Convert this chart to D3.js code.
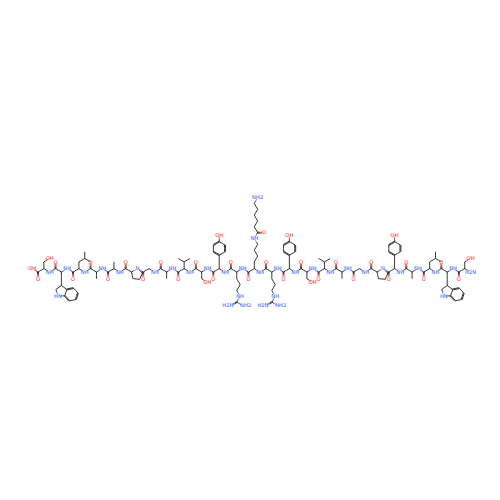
<!DOCTYPE html>
<html><head><meta charset="utf-8">
<script src="https://cdn.jsdelivr.net/npm/d3@7"></script>
<style>body{margin:0;background:#fff}</style></head>
<body><svg id="c" width="500" height="500"></svg>
<script>
// Peptide sequence, drawn left (C-terminus) to right (N-terminus)
const residues = ["Ser","Trp","Leu","Ala","Ala","Pro","Gly","Ala","Val","Ser","Tyr","Arg","LysX","Arg","Tyr","Ser","Val","Ala","Gly","Pro","Tyr","Ala","Leu","Trp","Ser"];
const elementColors = {C:"#000", N:"#3050F8", O:"#FF0D0D"};

const atoms=[], bonds=[];
function add(x,y,label,el,anchor){atoms.push({x,y,label,el:el||"C",anchor:anchor||"middle"});return atoms.length-1;}
function bond(a,b,o){bonds.push([a,b,o||1]);}
function norm(x,y){const l=Math.hypot(x,y);return [x/l,y/l];}
function third(c,p,n){const A=atoms[c],P=atoms[p],N=atoms[n];const [ux,uy]=norm((P.x-A.x)+(N.x-A.x),(P.y-A.y)+(N.y-A.y));return [-ux,-uy];}
const S=Math.sqrt(3)/2;
function chain(from,dir,count,labels){
  let prev=from,out=[];let sx=1;
  for(let i=0;i<count;i++){const A=atoms[prev];const lab=labels&&labels[i];
    const id=add(A.x+sx*0.5,A.y+dir*S,lab?lab[0]:null,lab?lab[1]:"C");bond(prev,id);out.push(id);prev=id;sx=-sx;}
  return out;}
function ringFrom(a,ux,uy,n){const A=atoms[a];const R=0.5/Math.sin(Math.PI/n);
  const f={x:A.x+ux,y:A.y+uy};const cx=f.x+ux*R,cy=f.y+uy*R;const a0=Math.atan2(-uy,-ux);const v=[];
  for(let j=0;j<n;j++){const t=a0+j*2*Math.PI/n;v.push(add(cx+R*Math.cos(t),cy+R*Math.sin(t)));}
  bond(a,v[0]);for(let j=0;j<n;j++)bond(v[j],v[(j+1)%n],(n===6&&j%2===0)?2:1);return {v,cx,cy};}
function polyOnEdge(a,b,n,ax,ay,arom){const P=atoms[a],Q=atoms[b];const mx=(P.x+Q.x)/2,my=(P.y+Q.y)/2;
  let [nx,ny]=norm(-(Q.y-P.y),Q.x-P.x);if(nx*(mx-ax)+ny*(my-ay)<0){nx=-nx;ny=-ny;}
  const e=Math.hypot(Q.x-P.x,Q.y-P.y);const ap=0.5*e/Math.tan(Math.PI/n);const R=0.5*e/Math.sin(Math.PI/n);
  const cx=mx+nx*ap,cy=my+ny*ap;const tp=Math.atan2(P.y-cy,P.x-cx),tq=Math.atan2(Q.y-cy,Q.x-cx);
  let st=tq-tp;while(st>Math.PI)st-=2*Math.PI;while(st<-Math.PI)st+=2*Math.PI;
  const v=[a,b];for(let j=2;j<n;j++){const t=tp+j*st;v.push(add(cx+R*Math.cos(t),cy+R*Math.sin(t)));}
  for(let j=1;j<n;j++)bond(v[j],v[(j+1)%n],(arom&&j%2===1)?2:1);return {v,cx,cy};}

const bb=[];
residues.forEach((r,k)=>{for(let j=0;j<3;j++){const i=3*k+j;const isN=j===2;
  const last=k===residues.length-1&&isN;
  bb.push(add(i*S,i%2?-0.5:0,isN?(last?"H2N":(r==="Pro"?"N":"NH")):null,isN?"N":"C"));}});
for(let i=1;i<bb.length;i++)bond(bb[i-1],bb[i]);
residues.forEach((r,k)=>{const c=bb[3*k];const A=atoms[c];
  if(k===0){const d=A.y<-0.1?-1:1;const o=add(A.x,A.y+d,"O","O");bond(c,o,2);const oh=add(A.x-S,A.y-d*0.5,"OH","O");bond(c,oh);}
  else{const [dx,dy]=third(c,bb[3*k-1],bb[3*k+1]);const o=add(A.x+dx,A.y+dy,"O","O");bond(c,o,2);}});
residues.forEach((r,k)=>{const ca=bb[3*k+1];const A=atoms[ca];const d=A.y<-0.1?-1:1;
  const cb=()=>{const id=add(A.x,A.y+d);bond(ca,id);return id;};
  if(r==="Gly")return;
  if(r==="Ala"){cb();return;}
  if(r==="Ser"){const b=cb();const B=atoms[b];const o=add(B.x+0.866,B.y+d*0.5,"OH","O");bond(b,o);return;}
  if(r==="Val"){const b=cb();const B=atoms[b];bond(b,add(B.x-S,B.y+d*0.5));bond(b,add(B.x+S,B.y+d*0.5));return;}
  if(r==="Leu"){const b=cb();const B=atoms[b];const g=add(B.x+S,B.y+d*0.5);bond(b,g);const G=atoms[g];
    bond(g,add(G.x,G.y+d));bond(g,add(G.x+S,G.y-d*0.5));return;}
  if(r==="Tyr"){const b=cb();const ring=ringFrom(b,0,d,6);const F=atoms[ring.v[3]];const o=add(F.x,F.y+d,"OH","O");bond(ring.v[3],o);return;}
  if(r==="Trp"){const b=cb();const p=ringFrom(b,0,d,5);
    atoms[p.v[3]].label="HN";atoms[p.v[3]].el="N";
    polyOnEdge(p.v[1],p.v[2],6,p.cx,p.cy,true);return;}
  if(r==="Pro"){const N=bb[3*k+2];polyOnEdge(ca,N,5,A.x,A.y-d);return;}
  if(r==="Arg"){const b=cb();const c=chain(b,d,4,[null,null,["NH","N"],null]);const Z=atoms[c[3]];
    const n1=add(Z.x-S,Z.y+d*0.5,"H2N","N","end"),n2=add(Z.x+S,Z.y+d*0.5,"NH2","N","start");bond(c[3],n1,2);bond(c[3],n2);return;}
  if(r==="LysX"){const b=cb();const c=chain(b,d,11,[null,null,null,["NH","N"],null,null,null,null,null,null,["NH2","N"]]);
    const co=c[4];const [dx,dy]=third(co,c[3],c[5]);const C=atoms[co];const o=add(C.x+dx,C.y+dy,"O","O");bond(co,o,2);return;}
});

const k=6.75;
const xs=d3.scaleLinear().domain([0,1]).range([38,38+k]);
const ys=d3.scaleLinear().domain([0,1]).range([272,272+k]);
const svg=d3.select("#c");
const trim=0.32;
bonds.forEach(([a,b,o])=>{const A=atoms[a],B=atoms[b];let x1=A.x,y1=A.y,x2=B.x,y2=B.y;
  const [ux,uy]=norm(x2-x1,y2-y1);
  if(A.label){x1+=ux*trim;y1+=uy*trim;} if(B.label){x2-=ux*trim;y2-=uy*trim;}
  const col1=elementColors[A.el],col2=elementColors[B.el];
  const offs=o===2?[-0.07,0.07]:[0];
  offs.forEach(f=>{const px=-uy*f,py=ux*f;const mx=(x1+x2)/2,my=(y1+y2)/2;
    svg.append("line").attr("x1",xs(x1+px)).attr("y1",ys(y1+py)).attr("x2",xs(mx+px)).attr("y2",ys(my+py)).attr("stroke",A.label?col1:"#000").attr("stroke-width",0.8);
    svg.append("line").attr("x1",xs(mx+px)).attr("y1",ys(my+py)).attr("x2",xs(x2+px)).attr("y2",ys(y2+py)).attr("stroke",B.label?col2:"#000").attr("stroke-width",0.8);});
});
svg.selectAll("text").data(atoms.filter(a=>a.label)).join("text")
  .attr("x",a=>xs(a.x)+(a.anchor==="end"?2.5:a.anchor==="start"?-2.5:0)).attr("y",a=>ys(a.y)).attr("dy","0.35em").attr("text-anchor",a=>a.anchor)
  .attr("font-family","DejaVu Sans, sans-serif").attr("font-size",5.2).attr("fill",a=>elementColors[a.el]).text(a=>a.label);
</script></body></html>
